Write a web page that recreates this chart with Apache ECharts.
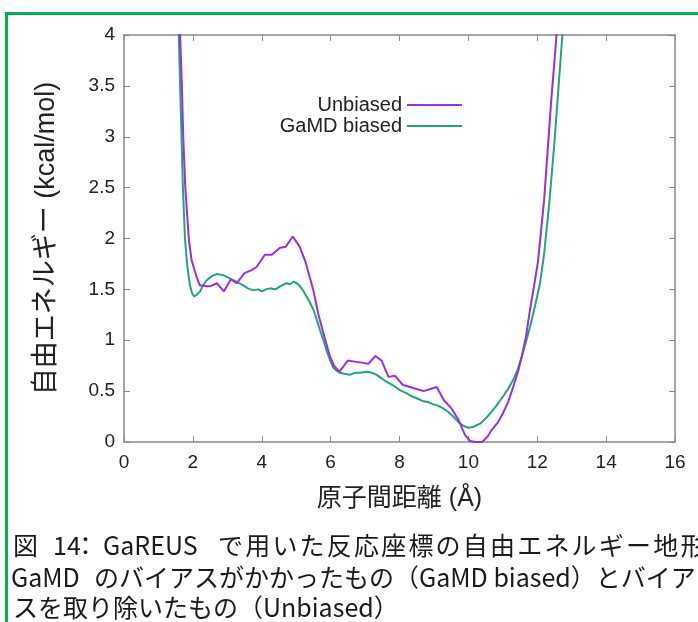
<!DOCTYPE html>
<html>
<head>
<meta charset="utf-8">
<script src="https://cdn.jsdelivr.net/npm/echarts@6/dist/echarts.min.js"></script>
<style>html,body{margin:0;padding:0;background:#fff;}#c{width:698px;height:622px;}</style>
</head>
<body>
<div id="c"></div>
<script>
// ---- data ----
const xTicks = [0, 2, 4, 6, 8, 10, 12, 14, 16];
const yTicks = [0, 0.5, 1, 1.5, 2, 2.5, 3, 3.5, 4];
const seriesNames = ['Unbiased', 'GaMD biased'];

const unbiasedDist = [1.55,1.63,1.68,1.72,1.78,1.88,1.96,2.11,2.2,2.4,2.5,2.7,2.8,2.9,3.1,3.27,3.5,3.7,3.85,4.09,4.29,4.53,4.7,4.9,5.1,5.28,5.5,5.64,5.79,5.98,6.1,6.25,6.5,6.7,6.9,7.1,7.3,7.48,7.68,7.87,8.1,8.4,8.7,9.08,9.29,9.51,9.71,9.9,10.05,10.2,10.4,10.55,10.68,10.85,11.0,11.15,11.3,11.45,11.55,11.68,11.79,11.9,12.02,12.2,12.4,12.56,12.65];
const unbiasedEnergy = [4.6,4.0,3.5,3.0,2.5,2.0,1.79,1.62,1.54,1.53,1.53,1.56,1.52,1.48,1.60,1.56,1.66,1.69,1.72,1.84,1.84,1.91,1.92,2.02,1.92,1.76,1.49,1.26,1.07,0.84,0.75,0.69,0.80,0.79,0.78,0.77,0.845,0.80,0.64,0.65,0.56,0.53,0.50,0.54,0.41,0.33,0.22,0.07,0.01,0.0,0.0,0.05,0.12,0.19,0.28,0.39,0.54,0.70,0.84,1.05,1.30,1.52,1.77,2.38,3.33,4.0,4.5];

const gamdDist = [1.52,1.59,1.63,1.67,1.71,1.77,1.84,1.92,1.98,2.04,2.12,2.21,2.3,2.4,2.55,2.69,2.88,3.0,3.17,3.3,3.46,3.6,3.75,3.9,4.0,4.12,4.24,4.4,4.53,4.65,4.72,4.82,4.92,5.02,5.11,5.2,5.3,5.4,5.5,5.6,5.69,5.8,5.89,6.0,6.08,6.18,6.27,6.4,6.56,6.7,6.85,7.05,7.2,7.34,7.5,7.63,7.8,8.01,8.2,8.35,8.5,8.7,8.85,8.98,9.1,9.27,9.4,9.56,9.7,9.85,10.0,10.15,10.34,10.5,10.63,10.8,11.01,11.15,11.3,11.43,11.55,11.67,11.79,11.93,12.08,12.2,12.35,12.5,12.62,12.73,12.8];
const gamdEnergy = [4.6,4.0,3.5,3.0,2.5,2.0,1.72,1.53,1.46,1.43,1.45,1.48,1.54,1.59,1.63,1.65,1.64,1.62,1.59,1.57,1.54,1.51,1.49,1.50,1.48,1.50,1.51,1.50,1.53,1.55,1.56,1.55,1.575,1.56,1.53,1.49,1.43,1.37,1.30,1.20,1.10,0.99,0.89,0.79,0.73,0.70,0.68,0.67,0.66,0.68,0.68,0.69,0.68,0.66,0.62,0.59,0.56,0.51,0.48,0.45,0.43,0.40,0.39,0.37,0.36,0.33,0.30,0.25,0.20,0.16,0.14,0.15,0.18,0.23,0.28,0.35,0.45,0.52,0.61,0.71,0.84,0.98,1.13,1.33,1.56,1.85,2.35,2.95,3.5,4.0,4.4];

const xTitle = '原子間距離 (Å)';
const yTitle = '自由エネルギー (kcal/mol)';
const caption1 = ['図', '14', '：', 'GaREUS', 'で用いた反応座標の自由エネルギー地形'];
const caption2 = ['GaMD', 'のバイアスがかかったもの（GaMD biased）とバイア'];
const caption3 = 'スを取り除いたもの（Unbiased）';

// ---- build ----
const zip = (a, b) => a.map((v, i) => [v, b[i]]);
const axisGray = '#8a8a8a';
const latin = '"Liberation Sans", Arial, sans-serif';
const cjk = '"Liberation Sans", "Noto Sans CJK JP", sans-serif';
const capFont = '"Noto Sans CJK JP", sans-serif';
const capSize = 25;

const chart = echarts.init(document.getElementById('c'), null, {renderer: 'canvas'});

function capText(str, x, y) {
  return {type: 'text', x: x, y: y,
    style: {text: str, fill: '#1a1a1a', font: capSize + 'px ' + capFont, verticalAlign: 'middle'}};
}
function capRun(str, x0, y, adv) {
  return Array.from(str).map((ch, i) => capText(ch, x0 + i * adv, y));
}

const graphics = [
  {type: 'line', shape: {x1: 5, y1: 13.5, x2: 698, y2: 13.5}, style: {stroke: '#00b050', lineWidth: 3}},
  {type: 'line', shape: {x1: 6.5, y1: 12, x2: 6.5, y2: 622}, style: {stroke: '#00b050', lineWidth: 3}},
  capText(caption1[0], 13, 545),
  capText(caption1[1], 53, 545),
  capText(caption1[2], 73, 545),
  capText(caption1[3], 103, 545),
  ...capRun(caption1[4], 218, 545, 27.2),
  capText(caption2[0], 11, 577),
  capText(caption2[1], 94, 577),
  capText(caption3, 13, 607)
];

const commonX = {type: 'value', min: 0, max: 16, interval: 2,
  axisLine: {show: true, onZero: false, lineStyle: {color: axisGray, width: 1.5}},
  axisTick: {show: true, inside: true, length: 6, lineStyle: {color: axisGray, width: 1}},
  splitLine: {show: false}};
const commonY = {type: 'value', min: 0, max: 4, interval: 0.5,
  axisLine: {show: true, onZero: false, lineStyle: {color: axisGray, width: 1.5}},
  axisTick: {show: true, inside: true, length: 6, lineStyle: {color: axisGray, width: 1}},
  splitLine: {show: false}};

chart.setOption({
  animation: false,
  backgroundColor: '#fff',
  grid: {left: 124, right: 23, top: 35, bottom: 180, containLabel: false},
  legend: {
    data: seriesNames, orient: 'vertical', align: 'right',
    right: 236, top: 95, padding: 0, itemGap: 1,
    icon: 'rect', itemWidth: 55, itemHeight: 2,
    textStyle: {fontSize: 20, fontFamily: latin, color: '#222', lineHeight: 20}
  },
  xAxis: [
    Object.assign({}, commonX, {position: 'bottom',
      axisLabel: {show: true, margin: 11, fontSize: 19, fontFamily: latin, color: '#222',
        formatter: v => xTicks.includes(v) ? String(v) : ''},
      name: xTitle, nameLocation: 'middle', nameGap: 45,
      nameTextStyle: {fontSize: 25, fontFamily: cjk, color: '#222'}}),
    Object.assign({}, commonX, {position: 'top', axisLabel: {show: false}})
  ],
  yAxis: [
    Object.assign({}, commonY, {position: 'left',
      axisLabel: {show: true, margin: 9, fontSize: 19, fontFamily: latin, color: '#222',
        formatter: v => yTicks.includes(v) ? String(v) : ''},
      name: yTitle, nameLocation: 'middle', nameGap: 64,
      nameTextStyle: {fontSize: 27, fontFamily: cjk, color: '#222'}}),
    Object.assign({}, commonY, {position: 'right', axisLabel: {show: false}})
  ],
  series: [
    {name: seriesNames[0], type: 'line', data: zip(unbiasedDist, unbiasedEnergy),
      xAxisIndex: 0, yAxisIndex: 0, showSymbol: false, symbol: 'none', clip: true,
      lineStyle: {color: '#9a2ee0', width: 2}, itemStyle: {color: '#9a2ee0'}, z: 3},
    {name: seriesNames[1], type: 'line', data: zip(gamdDist, gamdEnergy),
      xAxisIndex: 0, yAxisIndex: 0, showSymbol: false, symbol: 'none', clip: true,
      lineStyle: {color: '#1fa584', width: 2}, itemStyle: {color: '#1fa584'}, z: 2}
  ],
  graphic: graphics
});
</script>
</body>
</html>
